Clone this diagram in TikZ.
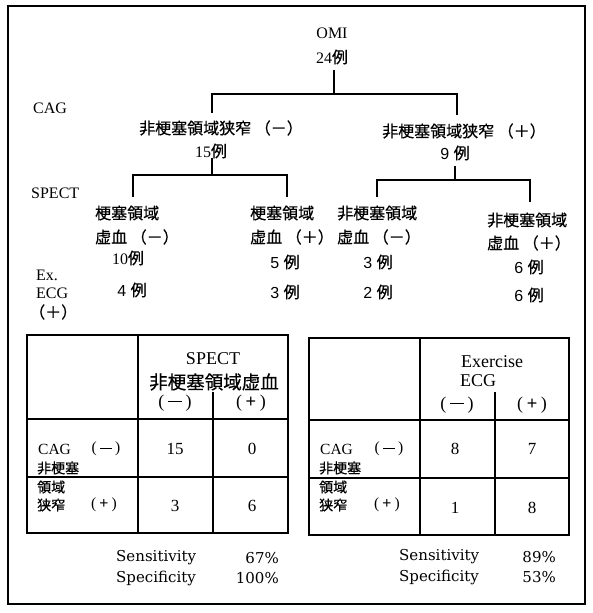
\documentclass[tikz,border=0pt]{standalone}
\usepackage{fontspec}
\setmainfont{Liberation Serif}
\newfontfamily\jpf[FakeBold=0.5]{Noto Sans CJK JP}
\newfontfamily\sansd{Liberation Sans}
\newfontfamily\dejas{DejaVu Serif}
\newcommand\rei{{\jpf 例}}
\newcommand\parminus{(\hspace{0.22em}\rule[0.27em]{0.75em}{0.06em}\hspace{0.22em})}
\newcommand\parplus{(\hspace{0.2em}{\sansd +}\hspace{0.2em})}
\begin{document}
\begin{tikzpicture}[x=1pt,y=-1pt,
  tree/.style={line width=1.8pt},
  tbl/.style={line width=1.2pt},
  frame/.style={line width=1.2pt},
  lt/.style={inner sep=0pt, font=\fontsize{16}{18}\selectfont},
  ds/.style={inner sep=0pt, font=\fontsize{16}{18}\selectfont\sansd},
  jp/.style={inner sep=0pt, font=\fontsize{16}{18}\selectfont\jpf},
  th/.style={inner sep=0pt, font=\fontsize{18}{20}\selectfont},
  tj/.style={inner sep=0pt, font=\fontsize{18.5}{20}\selectfont\jpf},
  tr/.style={inner sep=0pt, font=\fontsize{15.5}{17}\selectfont},
  trj/.style={inner sep=0pt, font=\fontsize{14}{16}\selectfont\jpf},
  tn/.style={inner sep=0pt, font=\fontsize{17}{19}\selectfont},
  st/.style={inner sep=0pt, font=\fontsize{15}{17}\selectfont\dejas}]
\useasboundingbox (0,0) rectangle (592,613);
% outer frame
\coordinate (F1) at (8,6);
\coordinate (F2) at (585,604);
\draw[frame] (F1) rectangle (F2);

% side labels
\node[lt, anchor=west] (cag) at (33,108) {CAG};
\node[lt, anchor=west] (spect) at (31,193) {SPECT};
\node[lt, anchor=west] (ex) at (36,275) {Ex.};
\node[lt, anchor=west] (ecg) at (36,293) {ECG};
\node[jp, anchor=west] (exp) at (29,312) {（＋）};

% root
\node[lt] (omi) at (332,33) {OMI};
\node[lt] (n24) at (332,57) {24\rei};
\coordinate (r0) at (334,70);
\coordinate (r1) at (334,94);
\coordinate (rL) at (212,94);
\coordinate (rR) at (457,94);
\coordinate (rLd) at (212,113);
\coordinate (rRd) at (457,115);
\draw[tree] (r0) -- (r1);
\draw[tree] (rLd) -- (rL) -- (rR) -- (rRd);

% level 1
\node[jp, anchor=west] (cneg) at (139,128) {非梗塞領域狭窄 （－）};
\node[lt] (n15) at (211,151) {15\rei};
\node[jp, anchor=west] (cpos) at (382,131) {非梗塞領域狭窄 （＋）};
\node[ds] (n9) at (455,153) {9 \rei};

% left subtree
\coordinate (a0) at (212,158);
\coordinate (a1) at (212,175);
\coordinate (aL) at (133,175);
\coordinate (aR) at (287,175);
\coordinate (aLd) at (133,197);
\coordinate (aRd) at (287,197);
\draw[tree] (a0) -- (a1);
\draw[tree] (aLd) -- (aL) -- (aR) -- (aRd);

% right subtree
\coordinate (b0) at (455,166);
\coordinate (b1) at (455,180);
\coordinate (bL) at (377,180);
\coordinate (bR) at (530,180);
\coordinate (bLd) at (377,197);
\coordinate (bRd) at (530,202);
\draw[tree] (b0) -- (b1);
\draw[tree] (bLd) -- (bL) -- (bR) -- (bRd);

% leaves
\node[jp, anchor=west] (l1a) at (95,213) {梗塞領域};
\node[jp, anchor=west] (l1b) at (95,237) {虚血 （－）};
\node[lt] (l1c) at (128,258) {10\rei};
\node[ds] (l1d) at (132,290) {4 \rei};

\node[jp, anchor=west] (l2a) at (250,213) {梗塞領域};
\node[jp, anchor=west] (l2b) at (250,237) {虚血 （＋）};
\node[ds] (l2c) at (285,262) {5 \rei};
\node[ds] (l2d) at (285,292) {3 \rei};

\node[jp, anchor=west] (l3a) at (337,213) {非梗塞領域};
\node[jp, anchor=west] (l3b) at (337,237) {虚血 （－）};
\node[ds] (l3c) at (378,262) {3 \rei};
\node[ds] (l3d) at (378,292) {2 \rei};

\node[jp, anchor=west] (l4a) at (487,220) {非梗塞領域};
\node[jp, anchor=west] (l4b) at (487,243) {虚血 （＋）};
\node[ds] (l4c) at (529,267) {6 \rei};
\node[ds] (l4d) at (529,295) {6 \rei};

% left table
\coordinate (LA) at (27,335);
\coordinate (LB) at (288,533);
\draw[tbl] (LA) rectangle (LB);
\draw[tbl] (138,335) -- (138,533);
\draw[tbl] (27,419) -- (288,419);
\draw[tbl] (213,392) -- (213,533);
\draw[tbl] (27,477) -- (288,477);
\node[th] (lh1) at (213,359) {SPECT};
\node[tj] (lh2) at (214,382) {非梗塞領域虚血};
\node[th] (lh3) at (175,403) {\parminus};
\node[th] (lh4) at (251,403) {\parplus};
\node[tr, anchor=west] (lr1) at (38,449) {CAG};
\node[tr] (lr1p) at (106,449) {\parminus};
\node[trj, anchor=west] (lr2) at (37,468) {非梗塞};
\node[trj, anchor=west] (lr3) at (37,487) {領域};
\node[trj, anchor=west] (lr4) at (37,505) {狭窄};
\node[tr] (lr4p) at (104,505) {\parplus};
\node[tn] (lv1) at (175,449) {15};
\node[tn] (lv2) at (252,449) {0};
\node[tn] (lv3) at (175,506) {3};
\node[tn] (lv4) at (252,506) {6};
\node[st, anchor=west] (ls1) at (116,558) {Sensitivity};
\node[st, anchor=east] (ls2) at (279,558) {67\%};
\node[st, anchor=west] (ls3) at (116,578) {Specificity};
\node[st, anchor=east] (ls4) at (279,578) {100\%};

% right table
\coordinate (RA) at (309,338);
\coordinate (RB) at (569,535);
\draw[tbl] (RA) rectangle (RB);
\draw[tbl] (420,338) -- (420,535);
\draw[tbl] (309,420) -- (569,420);
\draw[tbl] (495,392) -- (495,535);
\draw[tbl] (309,478) -- (569,478);
\node[th, anchor=west] (rh1) at (461,362) {Exercise};
\node[th, anchor=west] (rh2) at (460,381) {ECG};
\node[th] (rh3) at (457,405) {\parminus};
\node[th] (rh4) at (532,405) {\parplus};
\node[tr, anchor=west] (rr1) at (320,449) {CAG};
\node[tr] (rr1p) at (389,449) {\parminus};
\node[trj, anchor=west] (rr2) at (319,468) {非梗塞};
\node[trj, anchor=west] (rr3) at (319,487) {領域};
\node[trj, anchor=west] (rr4) at (319,505) {狭窄};
\node[tr] (rr4p) at (387,505) {\parplus};
\node[tn] (rv1) at (455,449) {8};
\node[tn] (rv2) at (532,449) {7};
\node[tn] (rv3) at (455,508) {1};
\node[tn] (rv4) at (532,508) {8};
\node[st, anchor=west] (rs1) at (399,557) {Sensitivity};
\node[st, anchor=east] (rs2) at (556,557) {89\%};
\node[st, anchor=west] (rs3) at (399,577) {Specificity};
\node[st, anchor=east] (rs4) at (556,577) {53\%};
\end{tikzpicture}
\end{document}
